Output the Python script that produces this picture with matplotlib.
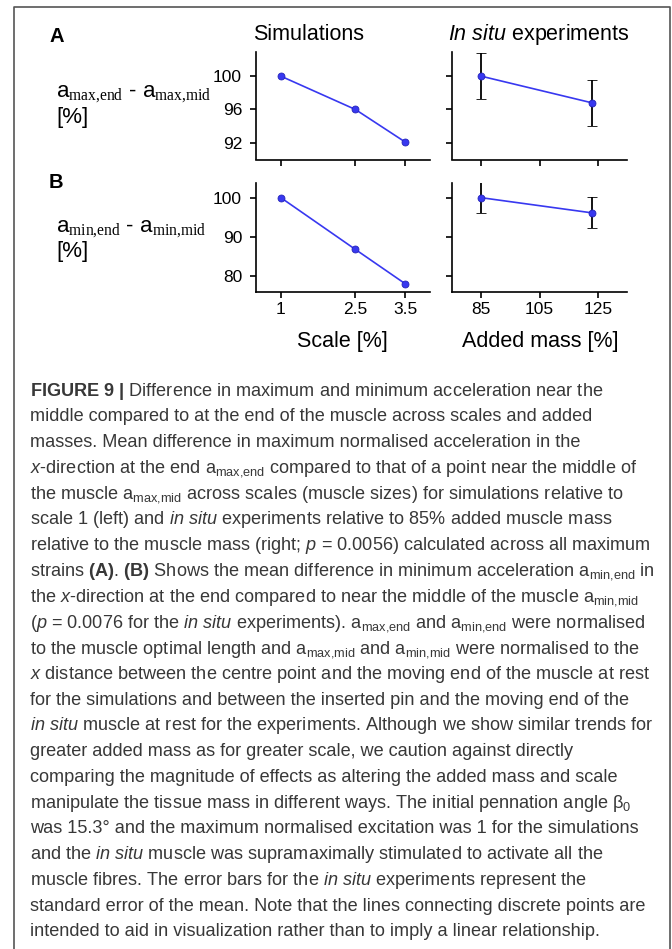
import matplotlib
matplotlib.use("Agg")
import matplotlib.pyplot as plt
from matplotlib.lines import Line2D

plt.rcParams['font.family'] = ['Liberation Sans', 'DejaVu Sans']
plt.rcParams['mathtext.fontset'] = 'custom'
plt.rcParams['mathtext.rm'] = 'Liberation Sans'
plt.rcParams['mathtext.it'] = 'Liberation Sans:italic'
plt.rcParams['mathtext.bf'] = 'Liberation Sans:bold'
plt.rcParams['mathtext.tt'] = 'Liberation Serif'

# data
scale = [1, 2.5, 3.5]
scale_labels = ['1', '2.5', '3.5']
sim_amax = [100, 96.0, 92.1]
sim_amin = [100, 86.7, 77.9]

added_mass = [85, 123]
mass_ticks = [85, 105, 125]
situ_amax = [100, 96.8]
situ_amax_err = [2.8, 2.8]
situ_amin = [100, 96.1]
situ_amin_err = [4.0, 4.0]

yticks_a = [92, 96, 100]
yticks_b = [80, 90, 100]

caption = [
    r"$\mathbf{FIGURE\ 9\ |}$ Difference in maximum and minimum acceleration near the",
    "middle compared to at the end of the muscle across scales and added",
    "masses. Mean difference in maximum normalised acceleration in the",
    r"$\mathit{x}$-direction at the end a$_{\mathrm{max{,}end}}$ compared to that of a point near the middle of",
    r"the muscle a$_{\mathrm{max{,}mid}}$ across scales (muscle sizes) for simulations relative to",
    r"scale 1 (left) and $\mathit{in\ situ}$ experiments relative to 85% added muscle mass",
    r"relative to the muscle mass (right; $\mathit{p}$ = 0.0056) calculated across all maximum",
    r"strains $\mathbf{(A)}$. $\mathbf{(B)}$ Shows the mean difference in minimum acceleration a$_{\mathrm{min{,}end}}$ in",
    r"the $\mathit{x}$-direction at the end compared to near the middle of the muscle a$_{\mathrm{min{,}mid}}$",
    r"($\mathit{p}$ = 0.0076 for the $\mathit{in\ situ}$ experiments). a$_{\mathrm{max{,}end}}$ and a$_{\mathrm{min{,}end}}$ were normalised",
    r"to the muscle optimal length and a$_{\mathrm{max{,}mid}}$ and a$_{\mathrm{min{,}mid}}$ were normalised to the",
    r"$\mathit{x}$ distance between the centre point and the moving end of the muscle at rest",
    "for the simulations and between the inserted pin and the moving end of the",
    r"$\mathit{in\ situ}$ muscle at rest for the experiments. Although we show similar trends for",
    "greater added mass as for greater scale, we caution against directly",
    "comparing the magnitude of effects as altering the added mass and scale",
    r"manipulate the tissue mass in different ways. The initial pennation angle β$_{0}$",
    "was 15.3° and the maximum normalised excitation was 1 for the simulations",
    r"and the $\mathit{in\ situ}$ muscle was supramaximally stimulated to activate all the",
    r"muscle fibres. The error bars for the $\mathit{in\ situ}$ experiments represent the",
    "standard error of the mean. Note that the lines connecting discrete points are",
    "intended to aid in visualization rather than to imply a linear relationship.",
]

W, H = 672, 949
fig = plt.figure(figsize=(W / 100, H / 100), dpi=100)
blue = '#3838f0'


def box(x0, y0, x1, y1):
    return [x0 / W, 1 - y1 / H, (x1 - x0) / W, (y1 - y0) / H]


def txt(x, y, s, **kw):
    return fig.text(x / W, 1 - y / H, s, **kw)


def style(ax):
    for side in ['top', 'right']:
        ax.spines[side].set_visible(False)
    for side in ['left', 'bottom']:
        ax.spines[side].set_linewidth(1.2)
    ax.tick_params(direction='out', length=4.5, width=1.2, labelsize=12.5)
    ax.tick_params(axis='y', pad=5.5)
    ax.tick_params(axis='x', pad=3)


ax_sa = fig.add_axes(box(256, 52, 430, 159.5))
ax_ia = fig.add_axes(box(452, 52, 627, 159.5))
ax_sb = fig.add_axes(box(256, 182.5, 430, 291.5))
ax_ib = fig.add_axes(box(452, 182.5, 627, 291.5))

for ax, vals in [(ax_sa, sim_amax), (ax_sb, sim_amin)]:
    style(ax)
    ax.plot(scale, vals, '-o', color=blue, lw=1.2, ms=5, mec='#2424b8', mew=0.6)
    ax.set_xlim(0.5, 4.0)
    ax.set_xticks(scale)
    ax.set_xticklabels(scale_labels)

for ax, vals, err in [(ax_ia, situ_amax, situ_amax_err), (ax_ib, situ_amin, situ_amin_err)]:
    style(ax)
    ax.errorbar(added_mass, vals, yerr=err, fmt='-o', color=blue, lw=1.2, ms=5,
                mec='#2424b8', mew=0.6, ecolor='black', elinewidth=1.3,
                capsize=3.5, capthick=1.3)
    ax.set_xlim(75, 135)
    ax.set_xticks(mass_ticks)

for ax in [ax_sa, ax_ia]:
    ax.set_ylim(90, 102.9)
    ax.set_yticks(yticks_a)
    ax.tick_params(axis='x', labelbottom=False)
for ax in [ax_sb, ax_ib]:
    ax.set_ylim(75.9, 103.9)
    ax.set_yticks(yticks_b)
for ax in [ax_ia, ax_ib]:
    ax.tick_params(axis='y', labelleft=False)

# panel letters, titles, axis labels
txt(49, 36, 'A', weight='bold', size=14.5, va='center')
txt(49, 182, 'B', weight='bold', size=14.5, va='center')
txt(253, 40, 'Simulations', size=15.5, va='baseline')
txt(448, 40, r'$\mathit{In\ situ}$ experiments', size=15.5, va='baseline')
txt(342, 347, 'Scale [%]', size=15.5, ha='center', va='baseline')
txt(540, 347, 'Added mass [%]', size=15.5, ha='center', va='baseline')

txt(56, 97, r'a$_{\mathtt{max{,}end}}$ - a$_{\mathtt{max{,}mid}}$', size=16, va='baseline')
txt(56, 123, '[%]', size=16, va='baseline')
txt(56, 232, r'a$_{\mathtt{min{,}end}}$ - a$_{\mathtt{min{,}mid}}$', size=16, va='baseline')
txt(56, 257, '[%]', size=16, va='baseline')

# caption, sized so that the widest plain line spans the text block
renderer = fig.canvas.get_renderer()
probe = txt(30, 0, caption[11], size=12)
w = probe.get_window_extent(renderer).width
probe.remove()
cap_size = 12 * 620 / w

for i, line in enumerate(caption):
    txt(30, 395.5 + i * 25.76, line, size=cap_size, va='baseline', color='#383838')

# frame round the figure panel
fig.add_artist(Line2D([13.5 / W, 13.5 / W, 670 / W, 670 / W],
                      [0, 1 - 6.7 / H, 1 - 6.7 / H, 0],
                      transform=fig.transFigure, color='#555555', lw=1.2))

fig.savefig('out.png', dpi=100)
